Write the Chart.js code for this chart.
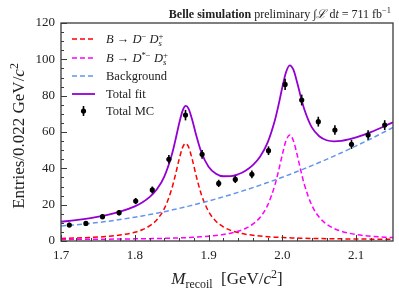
<!DOCTYPE html>
<html>
<head>
<meta charset="utf-8">
<script src="https://cdn.jsdelivr.net/npm/chart.js@4.4.1/dist/chart.umd.min.js"></script>
<style>
  html, body { margin: 0; padding: 0; background: #fff; }
  #wrap { width: 399px; height: 297px; }
</style>
</head>
<body>
<div id="wrap"><canvas id="c" width="399" height="297"></canvas></div>
<script>
// ---- MC の点（ビン中心・値・誤差） ----
const mcX = [1.71125, 1.73375, 1.75625, 1.77875, 1.80125, 1.82375, 1.84625, 1.86875, 1.89125, 1.91375,
             1.93625, 1.95875, 1.98125, 2.00375, 2.02625, 2.04875, 2.07125, 2.09375, 2.11625, 2.13875];
const mcY = [8.8, 9.7, 13.4, 15.6, 22.0, 28.1, 45.0, 69.3, 47.7, 31.7,
             33.9, 36.7, 49.7, 86.2, 77.6, 65.7, 61.1, 53.2, 58.3, 63.8];
const mcErr = [1.3, 1.3, 1.4, 1.5, 1.7, 1.9, 2.4, 2.9, 2.4, 2.0,
               2.0, 2.1, 2.4, 3.1, 3.0, 2.7, 2.6, 2.5, 2.6, 2.7];

// ---- フィット曲線（読み取り値） ----
const fitX = [1.70, 1.72, 1.74, 1.76, 1.78, 1.80, 1.81, 1.82, 1.83, 1.84,
              1.85, 1.855, 1.86, 1.865, 1.869, 1.873, 1.878, 1.883, 1.89, 1.90,
              1.91, 1.92, 1.93, 1.94, 1.95, 1.96, 1.97, 1.98, 1.99, 1.995,
              2.00, 2.005, 2.01, 2.015, 2.02, 2.025, 2.03, 2.04, 2.05, 2.06,
              2.07, 2.08, 2.09, 2.10, 2.12, 2.14, 2.15];
const bkg = [8.30, 8.92, 9.71, 10.67, 11.80, 13.09, 13.79, 14.54, 15.33, 16.16,
             17.03, 17.49, 17.94, 18.42, 18.80, 19.19, 19.70, 20.20, 20.93, 22.01,
             23.14, 24.31, 25.51, 26.76, 28.05, 29.37, 30.74, 32.16, 33.61, 34.36,
             35.10, 35.87, 36.64, 37.43, 38.22, 39.03, 39.84, 41.50, 43.20, 44.95,
             46.74, 48.57, 50.44, 52.35, 56.29, 60.40, 62.52];
const sigDDs = [1.43, 1.64, 1.94, 2.43, 3.25, 4.81, 6.16, 8.27, 11.74, 17.80,
                28.56, 36.27, 44.77, 51.66, 53.70, 51.66, 44.77, 36.27, 25.91, 16.28,
                10.89, 7.76, 5.85, 4.60, 3.75, 3.14, 2.70, 2.37, 2.11, 2.00,
                1.91, 1.82, 1.75, 1.68, 1.61, 1.56, 1.51, 1.42, 1.34, 1.27,
                1.22, 1.17, 1.13, 1.09, 1.03, 0.99, 0.97];
const sigDstDs = [0.86, 0.90, 0.95, 1.00, 1.08, 1.17, 1.23, 1.30, 1.37, 1.47,
                  1.58, 1.64, 1.71, 1.79, 1.85, 1.93, 2.02, 2.13, 2.31, 2.63,
                  3.03, 3.57, 4.32, 5.37, 6.90, 9.25, 13.10, 19.60, 30.90, 38.80,
                  47.60, 55.20, 58.30, 55.20, 47.60, 38.80, 30.90, 19.60, 13.10, 9.25,
                  6.90, 5.37, 4.32, 3.57, 2.63, 2.07, 1.87];
const totalFit = [10.59, 11.46, 12.60, 14.10, 16.13, 19.07, 21.18, 24.11, 28.44, 35.43,
                  47.17, 55.40, 64.42, 71.87, 74.35, 72.78, 66.49, 58.60, 49.15, 40.92,
                  37.06, 35.64, 35.68, 36.73, 38.70, 41.76, 46.54, 54.13, 66.62, 75.16,
                  84.61, 92.89, 96.69, 94.31, 87.43, 79.39, 72.25, 62.52, 57.64, 55.47,
                  54.86, 55.11, 55.89, 57.01, 59.95, 63.46, 65.36];

// ---- 目盛り ----
const xTicks = [1.7, 1.8, 1.9, 2.0, 2.1];
const yTicks = [0, 20, 40, 60, 80, 100, 120];

const SERIF = '"Liberation Serif", "DejaVu Serif", serif';
const RED = "#ff0000";
const MAGENTA = "#ff00ff";
const BLUE = "#6495ed";
const PURPLE = "#9400d3";

const pts = (xs, ys) => xs.map((x, i) => ({ x, y: ys[i] }));

// 書式付きテキスト（イタリック・上付き・下付き）
// flags: i=italic b=bold u=上付き d=下付き s=次と重ねる
function fontFor(flags, size) {
  const small = flags.includes("u") || flags.includes("d");
  const sz = small ? size * 0.7 : size;
  return (flags.includes("i") ? "italic " : "") + (flags.includes("b") ? "bold " : "") +
    sz.toFixed(1) + "px " + SERIF;
}
function richWidth(ctx, parts, size) {
  let w = 0, pend = 0;
  for (const [t, f] of parts) {
    ctx.font = fontFor(f, size);
    const tw = ctx.measureText(t).width;
    if (f.includes("s")) { pend = Math.max(pend, tw); continue; }
    w += Math.max(tw, pend);
    pend = 0;
  }
  return w;
}
function richDraw(ctx, x, y, parts, size, align) {
  const w = richWidth(ctx, parts, size);
  let cx = align === "right" ? x - w : align === "center" ? x - w / 2 : x;
  let pend = 0;
  ctx.textAlign = "left";
  ctx.textBaseline = "alphabetic";
  for (const [t, f] of parts) {
    ctx.font = fontFor(f, size);
    const dy = f.includes("u") ? -size * 0.38 : f.includes("d") ? size * 0.22 : 0;
    ctx.fillText(t, cx, y + dy);
    const tw = ctx.measureText(t).width;
    if (f.includes("s")) { pend = Math.max(pend, tw); continue; }
    cx += Math.max(tw, pend);
    pend = 0;
  }
}

const legendRows = [
  { kind: "line", color: RED, dash: [5, 3], width: 1.5,
    parts: [["B", "i"], [" \u2192 ", ""], ["D", "i"], ["\u2212", "u"], [" ", ""], ["D", "i"], ["+", "us"], ["s", "di"]] },
  { kind: "line", color: MAGENTA, dash: [5, 3], width: 1.5,
    parts: [["B", "i"], [" \u2192 ", ""], ["D", "i"], ["*\u2212", "u"], [" ", ""], ["D", "i"], ["+", "us"], ["s", "di"]] },
  { kind: "line", color: BLUE, dash: [5, 3], width: 1.5, parts: [["Background", ""]] },
  { kind: "line", color: PURPLE, dash: [], width: 1.8, parts: [["Total fit", ""]] },
  { kind: "mc", parts: [["Total MC", ""]] },
];
const legendY = [39, 58, 76, 94, 111];

const deco = {
  id: "deco",
  afterDatasetsDraw(chart) {
    const { ctx, chartArea: a, scales: { x, y } } = chart;
    ctx.save();

    // 誤差棒
    ctx.strokeStyle = "#000";
    ctx.lineWidth = 1.6;
    mcX.forEach((v, i) => {
      const px = x.getPixelForValue(v);
      ctx.beginPath();
      ctx.moveTo(px, y.getPixelForValue(mcY[i] - mcErr[i]));
      ctx.lineTo(px, y.getPixelForValue(mcY[i] + mcErr[i]));
      ctx.stroke();
    });

    // 枠
    ctx.strokeStyle = "#3a3a3a";
    ctx.lineWidth = 1.3;
    ctx.strokeRect(a.left, a.top, a.right - a.left, a.bottom - a.top);

    // 内向きの目盛り（左・下）
    ctx.lineWidth = 1;
    ctx.beginPath();
    for (let k = 0; k <= 24; k++) {
      const py = Math.round(y.getPixelForValue(k * 5)) + 0.5;
      const len = k % 4 === 0 ? 6 : 3;
      ctx.moveTo(a.left, py);
      ctx.lineTo(a.left + len, py);
    }
    for (let k = 85; k <= 107; k++) {
      const px = Math.round(x.getPixelForValue(k * 0.02)) + 0.5;
      const len = k % 5 === 0 ? 6 : 3;
      ctx.moveTo(px, a.bottom);
      ctx.lineTo(px, a.bottom - len);
    }
    ctx.stroke();

    // 凡例
    ctx.fillStyle = "#222";
    legendRows.forEach((r, i) => {
      const cy = legendY[i];
      if (r.kind === "line") {
        ctx.strokeStyle = r.color;
        ctx.lineWidth = r.width;
        ctx.setLineDash(r.dash);
        ctx.beginPath();
        ctx.moveTo(72, cy);
        ctx.lineTo(95, cy);
        ctx.stroke();
        ctx.setLineDash([]);
      } else {
        ctx.strokeStyle = "#000";
        ctx.lineWidth = 1.6;
        ctx.beginPath();
        ctx.moveTo(83.5, cy - 5);
        ctx.lineTo(83.5, cy + 5);
        ctx.stroke();
        ctx.fillStyle = "#000";
        ctx.beginPath();
        ctx.arc(83.5, cy, 2.6, 0, Math.PI * 2);
        ctx.fill();
        ctx.fillStyle = "#222";
      }
      richDraw(ctx, 106, cy + 4.3, r.parts, 12.5, "left");
    });

    // 軸タイトル
    richDraw(ctx, (a.left + a.right) / 2, 284,
      [["M", "i"], ["recoil", "d"], ["  [GeV/", ""], ["c", "i"], ["2", "u"], ["]", ""]], 17, "center");
    ctx.translate(24, (a.top + a.bottom) / 2 + 4);
    ctx.rotate(-Math.PI / 2);
    richDraw(ctx, 0, 0, [["Entries/0.022 GeV/", ""], ["c", "i"], ["2", "u"]], 17, "center");
    ctx.setTransform(1, 0, 0, 1, 0, 0);

    // 上のタイトル
    richDraw(ctx, 391, 18,
      [["Belle simulation", "b"], [" preliminary ", ""], ["\u222B", ""], ["\u2112", "i"], [" d", ""], ["t", "i"],
       [" = 711 fb", ""], ["\u22121", "u"]], 12, "right");

    ctx.restore();
  },
};

new Chart(document.getElementById("c"), {
  type: "scatter",
  data: {
    datasets: [
      {
        label: "Total MC",
        data: pts(mcX, mcY),
        pointRadius: 2.6,
        pointBackgroundColor: "#000",
        pointBorderWidth: 0,
        showLine: false,
      },
      {
        type: "line",
        label: "Total fit",
        data: pts(fitX, totalFit),
        borderColor: PURPLE,
        borderWidth: 1.8,
        pointRadius: 0,
        cubicInterpolationMode: "monotone",
      },
      {
        type: "line",
        label: "Background",
        data: pts(fitX, bkg),
        borderColor: BLUE,
        borderWidth: 1.5,
        borderDash: [5, 3],
        pointRadius: 0,
        cubicInterpolationMode: "monotone",
      },
      {
        type: "line",
        label: "B -> D*- Ds+",
        data: pts(fitX, sigDstDs),
        borderColor: MAGENTA,
        borderWidth: 1.5,
        borderDash: [5, 3],
        pointRadius: 0,
        cubicInterpolationMode: "monotone",
      },
      {
        type: "line",
        label: "B -> D- Ds+",
        data: pts(fitX, sigDDs),
        borderColor: RED,
        borderWidth: 1.5,
        borderDash: [5, 3],
        pointRadius: 0,
        cubicInterpolationMode: "monotone",
      },
    ],
  },
  options: {
    responsive: false,
    animation: false,
    devicePixelRatio: 1,
    layout: { padding: { top: 23, right: 6, left: 0, bottom: 0 } },
    plugins: { legend: { display: false }, tooltip: { enabled: false } },
    scales: {
      x: {
        type: "linear",
        min: 1.7,
        max: 2.15,
        afterBuildTicks: (s) => { s.ticks = xTicks.map((v) => ({ value: v })); },
        afterFit: (s) => { s.height = 56; },
        grid: { display: false, drawTicks: false },
        border: { display: false },
        ticks: {
          callback: (v) => Number(v).toFixed(1),
          font: { family: SERIF, size: 13 },
          color: "#222",
          padding: 7,
          maxRotation: 0,
          autoSkip: false,
        },
      },
      y: {
        min: 0,
        max: 120,
        afterBuildTicks: (s) => { s.ticks = yTicks.map((v) => ({ value: v })); },
        afterFit: (s) => { s.width = 61; },
        grid: { display: false, drawTicks: false },
        border: { display: false },
        ticks: {
          font: { family: SERIF, size: 13 },
          color: "#222",
          padding: 6,
        },
      },
    },
  },
  plugins: [deco],
});
</script>
</body>
</html>
